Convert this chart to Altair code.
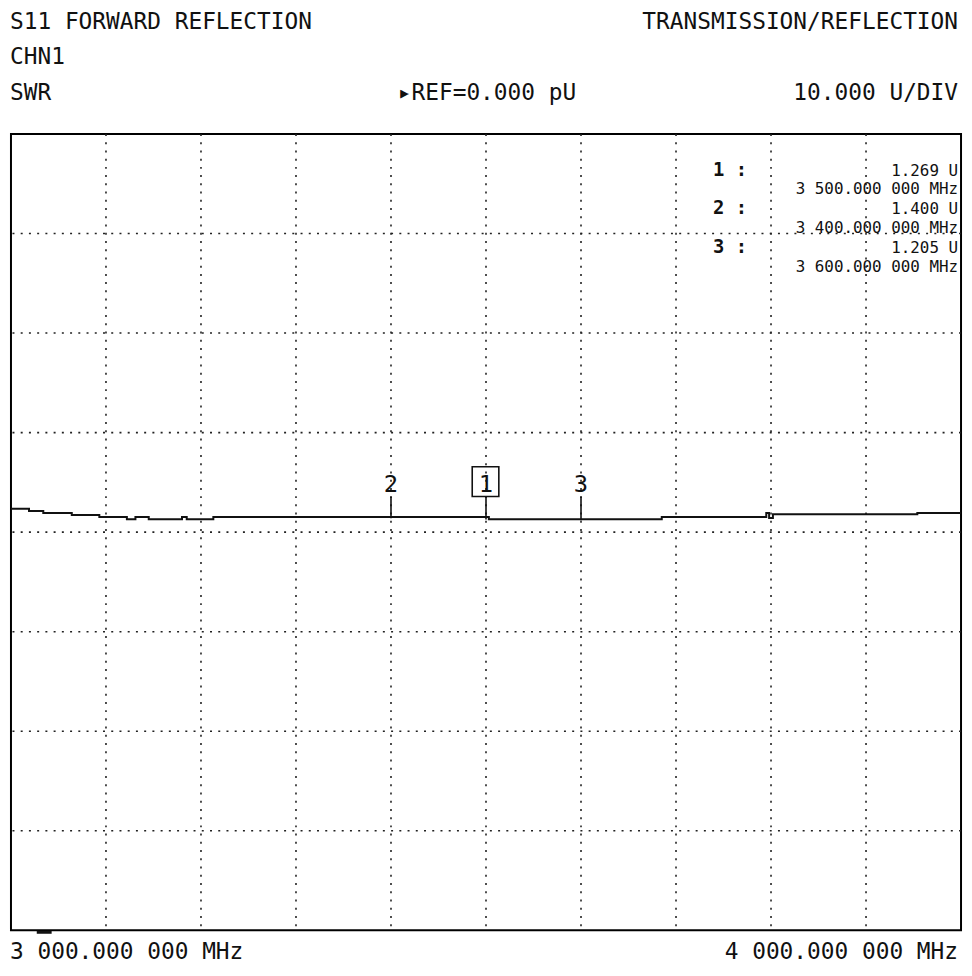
import altair as alt
import pandas as pd

# ---- data ----
freq_mhz = [3000, 3019, 3034, 3064, 3093, 3122, 3131, 3145, 3180, 3185, 3213,
            3503, 3685, 3795, 3798, 3802, 3954, 4000]
swr_u = [2.36, 2.12, 1.92, 1.72, 1.52, 1.29, 1.52, 1.29, 1.52, 1.29, 1.52,
         1.29, 1.52, 1.92, 1.42, 1.79, 1.92, 1.92]

marker_ids = ["1", "2", "3"]
marker_freq = [3500, 3400, 3600]
marker_val = [1.269, 1.400, 1.205]

grid_freq = [3100, 3200, 3300, 3400, 3500, 3600, 3700, 3800, 3900]
grid_val = [-30, -20, -10, 0, 10, 20, 30]

title_left = "S11 FORWARD REFLECTION"
title_right = "TRANSMISSION/REFLECTION"
channel_label = "CHN1"
format_label = "SWR"
ref_label = "\u25b8REF=0.000 pU"
scale_label = "10.000 U/DIV"
start_label = "3 000.000 000 MHz"
stop_label = "4 000.000 000 MHz"

# ---- tables ----
trace = pd.DataFrame({"f": freq_mhz, "v": swr_u})
markers = pd.DataFrame({"id": marker_ids, "f": marker_freq, "v": marker_val})
markers["idx"] = range(len(markers))
markers["num"] = markers["id"] + " :"
markers["val_txt"] = markers["v"].map(lambda u: f"{u:.3f} U")
markers["freq_txt"] = markers["f"].map(lambda f: f"{int(f // 1000)} {int(f % 1000):03d}.000 000 MHz")
gx = pd.DataFrame({"f": grid_freq})
gy = pd.DataFrame({"v": grid_val})
one = pd.DataFrame({"a": [0]})

FONT = "DejaVu Sans Mono"
INK = "#111111"
W, H = 958, 803

xs = alt.Scale(domain=[3000, 4000], nice=False, zero=False)
ys = alt.Scale(domain=[-40, 40], nice=False, zero=False)

dots = dict(strokeDash=[2, 6.3], color="#222222", strokeWidth=1.6)

grid_x = alt.Chart(gx).mark_rule(**dots).encode(x=alt.X("f:Q", scale=xs, axis=None))
grid_y = alt.Chart(gy).mark_rule(**dots).encode(y=alt.Y("v:Q", scale=ys, axis=None))

line = alt.Chart(trace).mark_line(interpolate="step-after", color=INK, strokeWidth=2).encode(
    x=alt.X("f:Q", scale=xs, axis=None), y=alt.Y("v:Q", scale=ys, axis=None))

ticks = alt.Chart(markers).transform_calculate(top="3.58").mark_rule(color=INK, strokeWidth=1.6).encode(
    x=alt.X("f:Q", scale=xs, axis=None), y=alt.Y("v:Q", scale=ys, axis=None), y2="top:Q")

labels = alt.Chart(markers).transform_calculate(ly="4.0").mark_text(
    font=FONT, fontSize=24, color=INK, baseline="alphabetic", align="center").encode(
    x=alt.X("f:Q", scale=xs, axis=None), y=alt.Y("ly:Q", scale=ys, axis=None), text="id:N")

box = alt.Chart(markers).transform_filter("datum.id == '1'").transform_calculate(
    x1="datum.f - 14.5", x2="datum.f + 13.5", b="3.58", t="6.57").mark_rect(
    fill="white", fillOpacity=0, stroke=INK, strokeWidth=1.6).encode(
    x=alt.X("x1:Q", scale=xs, axis=None), x2="x2:Q",
    y=alt.Y("b:Q", scale=ys, axis=None), y2="t:Q")

# marker readout block (top right, inside the grid)
ro = alt.Chart(markers).transform_calculate(
    y1="42 + datum.idx * 39", y2="61 + datum.idx * 39")
ro_num = ro.mark_text(font=FONT, fontSize=19, fontWeight="bold", color=INK,
                      align="left", baseline="alphabetic").encode(
    x=alt.value(708), y=alt.Y("y1:Q", scale=None), text="num:N")
ro_val = ro.mark_text(font=FONT, fontSize=16, color=INK, align="right", baseline="alphabetic").encode(
    x=alt.value(955), y=alt.Y("y1:Q", scale=None), text="val_txt:N")
ro_freq = ro.mark_text(font=FONT, fontSize=16, color=INK, align="right", baseline="alphabetic").encode(
    x=alt.value(955), y=alt.Y("y2:Q", scale=None), text="freq_txt:N")


def label(s, x, y, align="left", size=23):
    return alt.Chart(one).mark_text(font=FONT, fontSize=size, color=INK, align=align,
                                    baseline="alphabetic").encode(
        x=alt.value(x), y=alt.value(y), text=alt.value(s))


texts = [
    label(title_left, -1, -106),
    label(title_right, 955, -106, "right"),
    label(channel_label, -1, -71),
    label(format_label, -1, -34),
    label(ref_label, 480, -34, "center"),
    label(scale_label, 955, -34, "right"),
    label(start_label, -1, 832),
    label(stop_label, 955, 832, "right"),
]

sweep_bar = alt.Chart(one).mark_rule(color=INK, strokeWidth=3).encode(
    x=alt.value(26), x2=alt.value(41), y=alt.value(805))

chart = alt.layer(grid_x, grid_y, line, ticks, box, labels, ro_num, ro_val, ro_freq,
                  sweep_bar, *texts).properties(
    width=W, height=H, autosize="none",
    padding={"left": 3, "top": 123, "right": 3, "bottom": 34},
    background="white",
).configure_view(stroke="black", strokeWidth=2)

chart.save("out.html", embed_options={"renderer": "svg", "actions": False})
